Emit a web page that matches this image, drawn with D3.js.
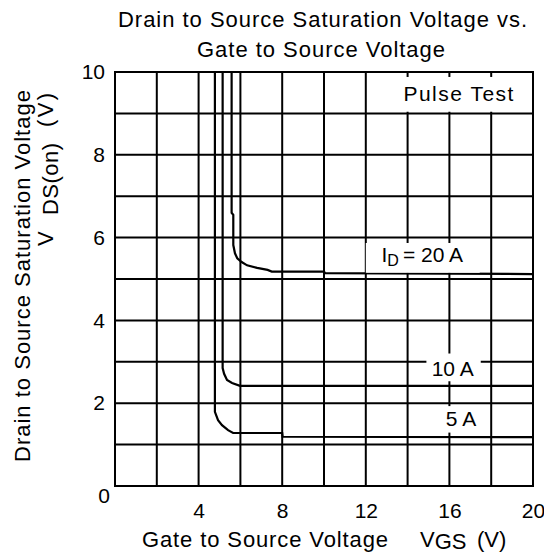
<!DOCTYPE html>
<html>
<head>
<meta charset="utf-8">
<script src="https://cdn.jsdelivr.net/npm/d3@7/dist/d3.min.js"></script>
<style>
  body { margin: 0; background: #fff; }
  svg { display: block; }
  text { font-family: "Liberation Sans", Arial, sans-serif; fill: #000; }
</style>
</head>
<body>
<div class="chart-container"></div>
<script>
// curves: [VGS (V), VDS(on) (V)]
var curve20A = [[5.58,10],[5.58,6.6],[5.66,6.55],[5.66,5.82],[5.74,5.62],[5.85,5.5],[6.06,5.41],
  [6.32,5.33],[6.8,5.27],[7.3,5.22],[7.5,5.18],[10,5.18],[10.05,5.14],[20,5.12]];
var curve10A = [[5.15,10],[5.15,2.85],[5.22,2.71],[5.36,2.56],[5.6,2.49],[5.98,2.42],[20,2.42]];
var curve5A = [[4.78,10],[4.78,1.79],[4.93,1.59],[5.12,1.47],[5.41,1.35],[5.65,1.28],[8,1.28],
  [8.02,1.19],[20,1.18]];

var xTicks = [4, 8, 12, 16, 20];
var yTicks = [2, 4, 6, 8, 10];
var xGrid = d3.range(0, 21, 2);
var yGrid = d3.range(0, 11, 1);

var margin = {top: 72, right: 11, bottom: 72, left: 115},
    width = 544 - margin.left - margin.right,
    height = 558 - margin.top - margin.bottom;

var fs = 21, fsTitle = 22;

var x = d3.scaleLinear().domain([0, 20]).range([0, width]);
var y = d3.scaleLinear().domain([0, 10]).range([height, 0]);

var root = d3.select('.chart-container').append("svg")
    .attr("width", 544)
    .attr("height", 558);

// title
root.append("text")
    .attr("x", 118).attr("y", 27)
    .attr("textLength", 409)
    .attr("lengthAdjust", "spacing")
    .style("font-size", fsTitle + "px")
    .text("Drain to Source Saturation Voltage vs.");
root.append("text")
    .attr("x", 197).attr("y", 57)
    .attr("textLength", 248)
    .attr("lengthAdjust", "spacing")
    .style("font-size", fsTitle + "px")
    .text("Gate to Source Voltage");

var svg = root.append("g")
    .attr("transform", "translate(" + margin.left + "," + margin.top + ")");

// grid
svg.selectAll(".vgrid").data(xGrid).enter().append("line")
    .attr("class", "vgrid")
    .attr("x1", function(d) { return x(d); }).attr("x2", function(d) { return x(d); })
    .attr("y1", 0).attr("y2", height)
    .attr("stroke", "#000").attr("stroke-width", 2);
svg.selectAll(".hgrid").data(yGrid).enter().append("line")
    .attr("class", "hgrid")
    .attr("y1", function(d) { return y(d); }).attr("y2", function(d) { return y(d); })
    .attr("x1", 0).attr("x2", width)
    .attr("stroke", "#000").attr("stroke-width", 2);

var line = d3.line()
    .x(function(d) { return x(d[0]); })
    .y(function(d) { return y(d[1]); });

[curve20A, curve10A, curve5A].forEach(function(c) {
  svg.append("path")
      .datum(c)
      .attr("d", line)
      .attr("fill", "none")
      .attr("stroke", "#000")
      .attr("stroke-width", 2.2);
});

// label boxes (white, knock out the grid)
var boxes = [
  {x0: 13.6, x1: 19.7, y0: 9.88, y1: 9.04},   // Pulse Test
  {x0: 12.0, x1: 17.45, y0: 5.87, y1: 5.15},  // ID = 20 A
  {x0: 14.9, x1: 17.5, y0: 3.2, y1: 2.53},    // 10 A
  {x0: 15.55, x1: 17.5, y0: 1.93, y1: 1.29}   // 5 A
];
svg.selectAll(".box").data(boxes).enter().append("rect")
    .attr("x", function(d) { return x(d.x0); })
    .attr("y", function(d) { return y(d.y0); })
    .attr("width", function(d) { return x(d.x1) - x(d.x0); })
    .attr("height", function(d) { return y(d.y1) - y(d.y0); })
    .attr("fill", "#fff");

svg.append("text")
    .attr("x", x(13.8)).attr("y", y(9.3))
    .attr("textLength", 110).attr("lengthAdjust", "spacing")
    .style("font-size", fs + "px")
    .text("Pulse Test");

var id = svg.append("text")
    .attr("x", x(12.75)).attr("y", y(5.4))
    .style("font-size", fs + "px");
id.append("tspan").text("I");
id.append("tspan").attr("dy", 4).style("font-size", "16px").text("D");
id.append("tspan").attr("dy", -4).attr("dx", 4).text("= 20 A");

svg.append("text")
    .attr("x", x(15.15)).attr("y", y(2.65))
    .style("font-size", fs + "px")
    .text("10 A");
svg.append("text")
    .attr("x", x(15.83)).attr("y", y(1.44))
    .style("font-size", fs + "px")
    .text("5 A");

// axes: labels only, the grid draws the lines
var xAxis = svg.append("g")
    .attr("transform", "translate(0," + height + ")")
    .call(d3.axisBottom(x).tickValues(xTicks).tickSize(0).tickPadding(17));
var yAxis = svg.append("g")
    .call(d3.axisLeft(y).tickValues(yTicks).tickSize(0).tickPadding(10));
[xAxis, yAxis].forEach(function(a) {
  a.select(".domain").remove();
  a.selectAll("text")
      .style("font-size", fs + "px")
      .attr("font-family", null);
});
svg.append("text")
    .attr("x", x(0) - 5).attr("y", y(0) + 17)
    .attr("text-anchor", "end")
    .style("font-size", fs + "px")
    .text("0");

// frame
svg.append("rect")
    .attr("width", width).attr("height", height)
    .attr("fill", "none").attr("stroke", "#000").attr("stroke-width", 2);

// x axis title
root.append("text")
    .attr("x", 142).attr("y", 547)
    .attr("textLength", 246).attr("lengthAdjust", "spacing")
    .style("font-size", fsTitle + "px")
    .text("Gate to Source Voltage");
var vgs = root.append("text")
    .attr("x", 420).attr("y", 547)
    .style("font-size", fsTitle + "px");
vgs.append("tspan").text("V");
vgs.append("tspan").attr("dy", 2).text("GS");
root.append("text")
    .attr("x", 477).attr("y", 547)
    .style("font-size", fsTitle + "px")
    .text("(V)");

// y axis title
root.append("text")
    .attr("transform", "translate(30,276) rotate(-90)")
    .attr("text-anchor", "middle")
    .attr("textLength", 372).attr("lengthAdjust", "spacing")
    .style("font-size", fsTitle + "px")
    .text("Drain to Source Saturation Voltage");
root.append("text")
    .attr("transform", "translate(53,246) rotate(-90)")
    .style("font-size", fsTitle + "px")
    .text("V");
root.append("text")
    .attr("transform", "translate(58,215) rotate(-90)")
    .attr("textLength", 72).attr("lengthAdjust", "spacing")
    .style("font-size", fsTitle + "px")
    .text("DS(on)");
root.append("text")
    .attr("transform", "translate(53,127) rotate(-90)")
    .attr("textLength", 34).attr("lengthAdjust", "spacing")
    .style("font-size", fsTitle + "px")
    .text("(V)");
</script>
</body>
</html>
